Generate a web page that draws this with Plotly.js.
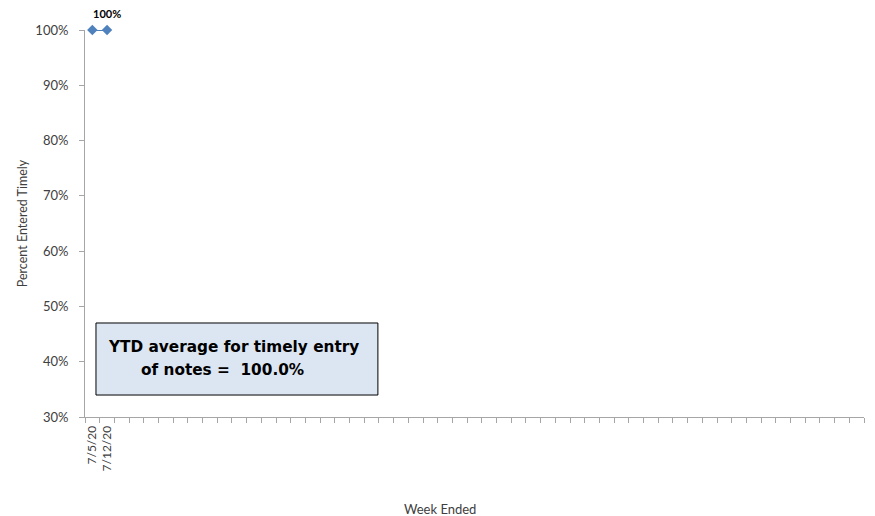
<!DOCTYPE html>
<html>
<head>
<meta charset="utf-8">
<script src="https://cdn.plot.ly/plotly-3.0.1.min.js"></script>
<style>html,body{margin:0;padding:0;background:#fff}#chart{width:875px;height:516px}</style>
</head>
<body>
<div id="chart"></div>
<script>
// Data
const weekLabels = ["7/5/20", "7/12/20"];
const weekIndex = [1, 2];
const percentTimely = [1.0, 1.0];
const pointLabel = "100%";
const totalWeeks = 53;
const yTickVals = [0.3, 0.4, 0.5, 0.6, 0.7, 0.8, 0.9, 1.0];
const yTickText = ["30%", "40%", "50%", "60%", "70%", "80%", "90%", "100%"];
const boxLine1 = "YTD average for timely entry";
const boxLine2 = "of notes =  100.0%";

const font = "Lato, 'Open Sans', sans-serif";
const boxFont = "'DejaVu Sans', Lato, sans-serif";

const trace = {
  x: weekIndex,
  y: percentTimely,
  type: "scatter",
  mode: "lines+markers",
  line: {color: "#4F81BD", width: 2},
  marker: {symbol: "diamond", size: 8, color: "#4F81BD"},
  cliponaxis: false,
  hoverinfo: "skip"
};

const lastI = weekIndex.length - 1;

const layout = {
  width: 875, height: 516,
  margin: {l: 85, r: 11, t: 30, b: 99},
  paper_bgcolor: "#fff", plot_bgcolor: "#fff",
  showlegend: false,
  xaxis: {
    type: "linear",
    range: [0.5, totalWeeks + 0.5],
    tickmode: "array", tickvals: weekIndex, ticktext: weekLabels,
    ticks: "",
    minor: {tickmode: "linear", tick0: 0.5, dtick: 1, ticks: "outside", ticklen: 5, tickcolor: "#A6A6A6", tickwidth: 1, showgrid: false},
    showline: true, linecolor: "#A6A6A6", linewidth: 1,
    showgrid: false, zeroline: false,
    tickangle: -90,
    ticklabelstandoff: 3,
    tickfont: {family: font, size: 12, color: "#404040"},
    fixedrange: true
  },
  yaxis: {
    range: [0.3, 1.0],
    tickmode: "array", tickvals: yTickVals, ticktext: yTickText,
    ticks: "outside", ticklen: 5, tickcolor: "#A6A6A6", tickwidth: 1,
    ticklabelstandoff: 8,
    showline: true, linecolor: "#A6A6A6", linewidth: 1,
    showgrid: false, zeroline: false,
    tickfont: {family: font, size: 13, color: "#404040"},
    title: {text: "Percent Entered Timely", font: {family: font, size: 12.5, color: "#404040"}, standoff: 4},
    fixedrange: true
  },
  shapes: [{
    type: "rect", xref: "paper", yref: "paper",
    x0: 0.0141, x1: 0.376, y0: 0.0568, y1: 0.2429,
    fillcolor: "#DCE6F2", line: {color: "#000", width: 1}, layer: "above"
  }],
  annotations: [
    {xref: "x", yref: "y", x: weekIndex[lastI], y: percentTimely[lastI], yshift: 17, xanchor: "center", yanchor: "middle",
     text: pointLabel, showarrow: false, font: {family: font, size: 11, color: "#000", weight: "bold"}},
    {xref: "paper", yref: "paper", x: (106 - 85) / 779, y: (417 - 347) / 387, xanchor: "left", yanchor: "middle",
     text: boxLine1, showarrow: false, font: {family: boxFont, size: 15.3, color: "#000", weight: "bold"}},
    {xref: "paper", yref: "paper", x: (139 - 85) / 779, y: (417 - 370) / 387, xanchor: "left", yanchor: "middle",
     text: boxLine2, showarrow: false, font: {family: boxFont, size: 15.3, color: "#000", weight: "bold"}},
    {xref: "paper", yref: "paper", x: (440 - 85) / 779, y: -(509 - 417) / 387, xanchor: "center", yanchor: "middle",
     text: "Week Ended", showarrow: false, font: {family: font, size: 13, color: "#404040"}}
  ]
};

Plotly.newPlot("chart", [trace], layout, {displayModeBar: false, staticPlot: true});
</script>
</body>
</html>
